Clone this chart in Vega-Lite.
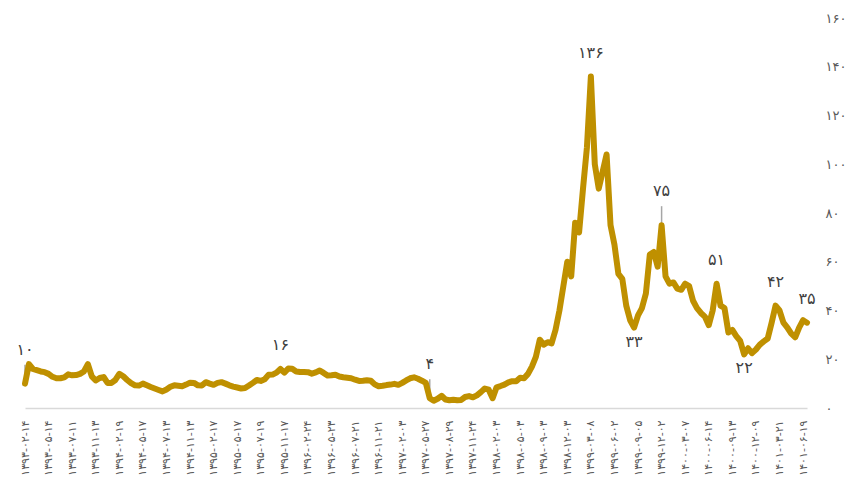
{
  "$schema": "https://vega.github.io/schema/vega-lite/v6.json",
  "autosize": {"type": "none"},
  "padding": {"left": 25, "top": 18, "right": 50, "bottom": 86},
  "width": 782,
  "height": 390,
  "background": "white",
  "config": {"view": {"stroke": null}, "font": "DejaVu Sans"},
  "datasets": {
    "series": [
      {"date": "۱۳۹۳-۰۲-۱۴", "value": 10},
      {"date": "۱۳۹۳-۰۲-۲۹", "value": 18},
      {"date": "۱۳۹۳-۰۳-۱۴", "value": 16},
      {"date": "۱۳۹۳-۰۳-۲۹", "value": 15.5},
      {"date": "۱۳۹۳-۰۴-۱۴", "value": 15},
      {"date": "۱۳۹۳-۰۴-۲۹", "value": 14.7},
      {"date": "۱۳۹۳-۰۵-۱۴", "value": 14},
      {"date": "۱۳۹۳-۰۵-۲۴", "value": 12.8},
      {"date": "۱۳۹۳-۰۶-۰۳", "value": 12.2},
      {"date": "۱۳۹۳-۰۶-۱۳", "value": 12.2},
      {"date": "۱۳۹۳-۰۶-۲۳", "value": 12.6},
      {"date": "۱۳۹۳-۰۷-۰۲", "value": 13.8},
      {"date": "۱۳۹۳-۰۷-۱۱", "value": 13.4},
      {"date": "۱۳۹۳-۰۸-۰۱", "value": 13.5},
      {"date": "۱۳۹۳-۰۸-۲۱", "value": 14},
      {"date": "۱۳۹۳-۰۹-۱۱", "value": 15},
      {"date": "۱۳۹۳-۱۰-۰۱", "value": 18},
      {"date": "۱۳۹۳-۱۰-۲۱", "value": 13},
      {"date": "۱۳۹۳-۱۱-۱۳", "value": 11.3},
      {"date": "۱۳۹۳-۱۱-۲۹", "value": 12.3},
      {"date": "۱۳۹۳-۱۲-۱۵", "value": 12.7},
      {"date": "۱۳۹۴-۰۱-۰۱", "value": 10.3},
      {"date": "۱۳۹۴-۰۱-۱۷", "value": 10.3},
      {"date": "۱۳۹۴-۰۲-۰۳", "value": 11.5},
      {"date": "۱۳۹۴-۰۲-۱۹", "value": 14},
      {"date": "۱۳۹۴-۰۳-۰۳", "value": 13},
      {"date": "۱۳۹۴-۰۳-۱۸", "value": 11.5},
      {"date": "۱۳۹۴-۰۴-۰۲", "value": 10.2},
      {"date": "۱۳۹۴-۰۴-۱۷", "value": 9.3},
      {"date": "۱۳۹۴-۰۵-۰۱", "value": 9.2},
      {"date": "۱۳۹۴-۰۵-۱۷", "value": 10},
      {"date": "۱۳۹۴-۰۵-۲۷", "value": 9.3},
      {"date": "۱۳۹۴-۰۶-۰۶", "value": 8.6},
      {"date": "۱۳۹۴-۰۶-۱۶", "value": 8},
      {"date": "۱۳۹۴-۰۶-۲۶", "value": 7.4},
      {"date": "۱۳۹۴-۰۷-۰۵", "value": 6.8},
      {"date": "۱۳۹۴-۰۷-۱۳", "value": 7.6},
      {"date": "۱۳۹۴-۰۸-۰۳", "value": 8.7},
      {"date": "۱۳۹۴-۰۸-۲۳", "value": 9.3},
      {"date": "۱۳۹۴-۰۹-۱۳", "value": 9.1},
      {"date": "۱۳۹۴-۱۰-۰۳", "value": 8.9},
      {"date": "۱۳۹۴-۱۰-۲۳", "value": 9.6},
      {"date": "۱۳۹۴-۱۱-۱۳", "value": 10.4},
      {"date": "۱۳۹۴-۱۱-۲۹", "value": 10.3},
      {"date": "۱۳۹۴-۱۲-۱۵", "value": 9.3},
      {"date": "۱۳۹۵-۰۱-۰۲", "value": 9.2},
      {"date": "۱۳۹۵-۰۱-۱۸", "value": 10.6},
      {"date": "۱۳۹۵-۰۲-۰۳", "value": 10},
      {"date": "۱۳۹۵-۰۲-۱۷", "value": 9.5},
      {"date": "۱۳۹۵-۰۳-۰۱", "value": 10.3},
      {"date": "۱۳۹۵-۰۳-۱۶", "value": 10.6},
      {"date": "۱۳۹۵-۰۳-۳۱", "value": 10},
      {"date": "۱۳۹۵-۰۴-۱۵", "value": 9.3},
      {"date": "۱۳۹۵-۰۴-۳۰", "value": 8.8},
      {"date": "۱۳۹۵-۰۵-۱۷", "value": 8.4},
      {"date": "۱۳۹۵-۰۵-۲۸", "value": 8},
      {"date": "۱۳۹۵-۰۶-۰۸", "value": 8.2},
      {"date": "۱۳۹۵-۰۶-۱۹", "value": 9.2},
      {"date": "۱۳۹۵-۰۶-۳۰", "value": 10.3},
      {"date": "۱۳۹۵-۰۷-۰۹", "value": 11.5},
      {"date": "۱۳۹۵-۰۷-۱۹", "value": 11.1},
      {"date": "۱۳۹۵-۰۸-۰۹", "value": 11.8},
      {"date": "۱۳۹۵-۰۸-۲۹", "value": 13.6},
      {"date": "۱۳۹۵-۰۹-۱۹", "value": 13.7},
      {"date": "۱۳۹۵-۱۰-۰۹", "value": 14.5},
      {"date": "۱۳۹۵-۱۰-۲۹", "value": 16},
      {"date": "۱۳۹۵-۱۱-۱۷", "value": 14.5},
      {"date": "۱۳۹۵-۱۲-۰۳", "value": 16.2},
      {"date": "۱۳۹۵-۱۲-۱۹", "value": 16.1},
      {"date": "۱۳۹۶-۰۱-۰۵", "value": 15},
      {"date": "۱۳۹۶-۰۱-۲۱", "value": 14.8},
      {"date": "۱۳۹۶-۰۲-۰۷", "value": 14.8},
      {"date": "۱۳۹۶-۰۲-۲۴", "value": 14.7},
      {"date": "۱۳۹۶-۰۳-۰۸", "value": 14.1},
      {"date": "۱۳۹۶-۰۳-۲۳", "value": 14.6},
      {"date": "۱۳۹۶-۰۴-۰۷", "value": 15.4},
      {"date": "۱۳۹۶-۰۴-۲۲", "value": 14.4},
      {"date": "۱۳۹۶-۰۵-۰۷", "value": 13.3},
      {"date": "۱۳۹۶-۰۵-۲۳", "value": 13.4},
      {"date": "۱۳۹۶-۰۶-۰۲", "value": 13.6},
      {"date": "۱۳۹۶-۰۶-۱۲", "value": 12.9},
      {"date": "۱۳۹۶-۰۶-۲۲", "value": 12.6},
      {"date": "۱۳۹۶-۰۷-۰۱", "value": 12.4},
      {"date": "۱۳۹۶-۰۷-۱۱", "value": 12.2},
      {"date": "۱۳۹۶-۰۷-۲۱", "value": 11.6},
      {"date": "۱۳۹۶-۰۸-۱۱", "value": 11.1},
      {"date": "۱۳۹۶-۰۹-۰۱", "value": 11.2},
      {"date": "۱۳۹۶-۰۹-۲۱", "value": 11.4},
      {"date": "۱۳۹۶-۱۰-۱۱", "value": 11.2},
      {"date": "۱۳۹۶-۱۱-۰۱", "value": 9.7},
      {"date": "۱۳۹۶-۱۱-۲۱", "value": 8.9},
      {"date": "۱۳۹۶-۱۲-۰۳", "value": 9.1},
      {"date": "۱۳۹۶-۱۲-۱۵", "value": 9.4},
      {"date": "۱۳۹۶-۱۲-۲۷", "value": 9.6},
      {"date": "۱۳۹۷-۰۱-۱۰", "value": 9.9},
      {"date": "۱۳۹۷-۰۱-۲۲", "value": 9.5},
      {"date": "۱۳۹۷-۰۲-۰۳", "value": 10.3},
      {"date": "۱۳۹۷-۰۲-۲۲", "value": 11.3},
      {"date": "۱۳۹۷-۰۳-۱۱", "value": 12.2},
      {"date": "۱۳۹۷-۰۳-۳۰", "value": 12.6},
      {"date": "۱۳۹۷-۰۴-۱۸", "value": 12},
      {"date": "۱۳۹۷-۰۵-۰۷", "value": 11.2},
      {"date": "۱۳۹۷-۰۵-۲۷", "value": 10.3},
      {"date": "۱۳۹۷-۰۶-۱۲", "value": 4},
      {"date": "۱۳۹۷-۰۶-۲۸", "value": 3},
      {"date": "۱۳۹۷-۰۷-۱۳", "value": 3.8},
      {"date": "۱۳۹۷-۰۷-۲۹", "value": 5},
      {"date": "۱۳۹۷-۰۸-۱۴", "value": 3.5},
      {"date": "۱۳۹۷-۰۸-۲۹", "value": 3.2},
      {"date": "۱۳۹۷-۰۹-۱۳", "value": 3.4},
      {"date": "۱۳۹۷-۰۹-۲۷", "value": 3.2},
      {"date": "۱۳۹۷-۱۰-۱۱", "value": 3.3},
      {"date": "۱۳۹۷-۱۰-۲۵", "value": 4.5},
      {"date": "۱۳۹۷-۱۱-۱۰", "value": 4.9},
      {"date": "۱۳۹۷-۱۱-۲۴", "value": 4.4},
      {"date": "۱۳۹۷-۱۲-۰۵", "value": 5.2},
      {"date": "۱۳۹۷-۱۲-۱۷", "value": 6.5},
      {"date": "۱۳۹۷-۱۲-۲۸", "value": 8},
      {"date": "۱۳۹۸-۰۱-۱۱", "value": 7.5},
      {"date": "۱۳۹۸-۰۱-۲۲", "value": 4},
      {"date": "۱۳۹۸-۰۲-۰۳", "value": 8.5},
      {"date": "۱۳۹۸-۰۲-۱۸", "value": 9},
      {"date": "۱۳۹۸-۰۳-۰۳", "value": 9.6},
      {"date": "۱۳۹۸-۰۳-۱۸", "value": 10.5},
      {"date": "۱۳۹۸-۰۴-۰۳", "value": 11},
      {"date": "۱۳۹۸-۰۴-۱۸", "value": 11},
      {"date": "۱۳۹۸-۰۵-۰۳", "value": 12.4},
      {"date": "۱۳۹۸-۰۵-۲۳", "value": 12.2},
      {"date": "۱۳۹۸-۰۶-۱۲", "value": 14},
      {"date": "۱۳۹۸-۰۷-۰۲", "value": 17},
      {"date": "۱۳۹۸-۰۷-۲۲", "value": 21},
      {"date": "۱۳۹۸-۰۸-۱۲", "value": 28},
      {"date": "۱۳۹۸-۰۹-۰۳", "value": 26},
      {"date": "۱۳۹۸-۰۹-۱۸", "value": 27},
      {"date": "۱۳۹۸-۱۰-۰۳", "value": 26.5},
      {"date": "۱۳۹۸-۱۰-۱۸", "value": 32},
      {"date": "۱۳۹۸-۱۱-۰۳", "value": 40},
      {"date": "۱۳۹۸-۱۱-۱۸", "value": 50},
      {"date": "۱۳۹۸-۱۲-۰۳", "value": 60},
      {"date": "۱۳۹۸-۱۲-۱۹", "value": 54},
      {"date": "۱۳۹۹-۰۱-۰۶", "value": 76},
      {"date": "۱۳۹۹-۰۱-۲۲", "value": 72},
      {"date": "۱۳۹۹-۰۲-۰۷", "value": 90},
      {"date": "۱۳۹۹-۰۲-۲۳", "value": 107},
      {"date": "۱۳۹۹-۰۳-۰۸", "value": 136},
      {"date": "۱۳۹۹-۰۳-۲۲", "value": 100},
      {"date": "۱۳۹۹-۰۴-۰۵", "value": 90},
      {"date": "۱۳۹۹-۰۴-۲۰", "value": 97},
      {"date": "۱۳۹۹-۰۵-۰۳", "value": 104},
      {"date": "۱۳۹۹-۰۵-۱۸", "value": 75},
      {"date": "۱۳۹۹-۰۶-۰۲", "value": 67},
      {"date": "۱۳۹۹-۰۶-۱۸", "value": 55},
      {"date": "۱۳۹۹-۰۷-۰۳", "value": 53},
      {"date": "۱۳۹۹-۰۷-۱۹", "value": 42},
      {"date": "۱۳۹۹-۰۸-۰۵", "value": 36},
      {"date": "۱۳۹۹-۰۸-۲۱", "value": 33},
      {"date": "۱۳۹۹-۰۹-۰۵", "value": 38},
      {"date": "۱۳۹۹-۰۹-۱۹", "value": 41},
      {"date": "۱۳۹۹-۱۰-۰۴", "value": 47},
      {"date": "۱۳۹۹-۱۰-۱۸", "value": 63},
      {"date": "۱۳۹۹-۱۱-۰۳", "value": 64},
      {"date": "۱۳۹۹-۱۱-۱۷", "value": 58},
      {"date": "۱۳۹۹-۱۲-۰۲", "value": 75},
      {"date": "۱۳۹۹-۱۲-۱۸", "value": 54},
      {"date": "۱۴۰۰-۰۱-۰۴", "value": 51},
      {"date": "۱۴۰۰-۰۱-۲۰", "value": 51.5},
      {"date": "۱۴۰۰-۰۲-۰۵", "value": 49},
      {"date": "۱۴۰۰-۰۲-۲۱", "value": 48.5},
      {"date": "۱۴۰۰-۰۳-۰۷", "value": 51},
      {"date": "۱۴۰۰-۰۳-۲۴", "value": 50},
      {"date": "۱۴۰۰-۰۴-۰۹", "value": 44},
      {"date": "۱۴۰۰-۰۴-۲۶", "value": 41},
      {"date": "۱۴۰۰-۰۵-۱۲", "value": 39},
      {"date": "۱۴۰۰-۰۵-۲۹", "value": 37.5},
      {"date": "۱۴۰۰-۰۶-۱۴", "value": 34},
      {"date": "۱۴۰۰-۰۶-۲۹", "value": 40},
      {"date": "۱۴۰۰-۰۷-۱۳", "value": 51},
      {"date": "۱۴۰۰-۰۷-۲۸", "value": 42},
      {"date": "۱۴۰۰-۰۸-۱۳", "value": 41},
      {"date": "۱۴۰۰-۰۸-۲۸", "value": 31},
      {"date": "۱۴۰۰-۰۹-۱۳", "value": 32},
      {"date": "۱۴۰۰-۰۹-۲۷", "value": 29.5},
      {"date": "۱۴۰۰-۱۰-۱۱", "value": 27.5},
      {"date": "۱۴۰۰-۱۰-۲۵", "value": 22},
      {"date": "۱۴۰۰-۱۱-۰۹", "value": 24.5},
      {"date": "۱۴۰۰-۱۱-۲۳", "value": 22.5},
      {"date": "۱۴۰۰-۱۲-۰۹", "value": 24},
      {"date": "۱۴۰۰-۱۲-۲۶", "value": 26},
      {"date": "۱۴۰۱-۰۱-۱۴", "value": 27.3},
      {"date": "۱۴۰۱-۰۲-۰۱", "value": 28.5},
      {"date": "۱۴۰۱-۰۲-۱۸", "value": 35},
      {"date": "۱۴۰۱-۰۳-۰۴", "value": 42},
      {"date": "۱۴۰۱-۰۳-۲۱", "value": 40},
      {"date": "۱۴۰۱-۰۴-۰۵", "value": 35},
      {"date": "۱۴۰۱-۰۴-۲۰", "value": 33},
      {"date": "۱۴۰۱-۰۵-۰۴", "value": 30.5},
      {"date": "۱۴۰۱-۰۵-۱۹", "value": 29},
      {"date": "۱۴۰۱-۰۶-۰۳", "value": 33},
      {"date": "۱۴۰۱-۰۶-۱۹", "value": 36},
      {"date": "۱۴۰۱-۰۷-۰۲", "value": 35}
    ],
    "peaks": [
      {"date": "۱۳۹۵-۱۰-۲۹", "value": 16, "label": "۱۶"},
      {"date": "۱۳۹۹-۰۳-۰۸", "value": 136, "label": "۱۳۶"},
      {"date": "۱۴۰۰-۰۷-۱۳", "value": 51, "label": "۵۱"},
      {"date": "۱۴۰۱-۰۳-۰۴", "value": 42, "label": "۴۲"},
      {"date": "۱۴۰۱-۰۷-۰۲", "value": 35, "label": "۳۵"}
    ],
    "callouts": [
      {"date": "۱۳۹۳-۰۲-۱۴", "value": 10, "label": "۱۰"},
      {"date": "۱۳۹۷-۰۶-۱۲", "value": 4, "label": "۴"},
      {"date": "۱۳۹۹-۱۲-۰۲", "value": 75, "label": "۷۵"}
    ],
    "troughs": [
      {"date": "۱۳۹۹-۰۸-۲۱", "value": 33, "label": "۳۳"},
      {"date": "۱۴۰۰-۱۰-۲۵", "value": 22, "label": "۲۲"}
    ]
  },
  "layer": [
    {
      "data": {"name": "callouts"},
      "mark": {"type": "rule", "color": "#A6A6A6", "strokeWidth": 1.5, "y2Offset": -19},
      "encoding": {
        "x": {"field": "date", "type": "ordinal"},
        "y": {"field": "value", "type": "quantitative"},
        "y2": {"field": "value"}
      }
    },
    {
      "data": {"name": "series"},
      "mark": {"type": "line", "color": "#BF9000", "strokeWidth": 6, "strokeJoin": "round", "strokeCap": "round"},
      "encoding": {
        "x": {
          "field": "date",
          "type": "ordinal",
          "scale": {"type": "point", "padding": 0},
          "axis": {
            "title": null,
            "values": ["۱۳۹۳-۰۲-۱۴", "۱۳۹۳-۰۵-۱۴", "۱۳۹۳-۰۷-۱۱", "۱۳۹۳-۱۱-۱۳", "۱۳۹۴-۰۲-۱۹", "۱۳۹۴-۰۵-۱۷", "۱۳۹۴-۰۷-۱۳", "۱۳۹۴-۱۱-۱۳", "۱۳۹۵-۰۲-۱۷", "۱۳۹۵-۰۵-۱۷", "۱۳۹۵-۰۷-۱۹", "۱۳۹۵-۱۱-۱۷", "۱۳۹۶-۰۲-۲۴", "۱۳۹۶-۰۵-۲۳", "۱۳۹۶-۰۷-۲۱", "۱۳۹۶-۱۱-۲۱", "۱۳۹۷-۰۲-۰۳", "۱۳۹۷-۰۵-۲۷", "۱۳۹۷-۰۸-۲۹", "۱۳۹۷-۱۱-۲۴", "۱۳۹۸-۰۲-۰۳", "۱۳۹۸-۰۵-۰۳", "۱۳۹۸-۰۹-۰۳", "۱۳۹۸-۱۲-۰۳", "۱۳۹۹-۰۳-۰۸", "۱۳۹۹-۰۶-۰۲", "۱۳۹۹-۰۹-۰۵", "۱۳۹۹-۱۲-۰۲", "۱۴۰۰-۰۳-۰۷", "۱۴۰۰-۰۶-۱۴", "۱۴۰۰-۰۹-۱۳", "۱۴۰۰-۱۲-۰۹", "۱۴۰۱-۰۳-۲۱", "۱۴۰۱-۰۶-۱۹"],
            "labelAngle": 270,
            "labelFontSize": 11,
            "labelColor": "#595959",
            "labelPadding": 12,
            "labelOverlap": false,
            "labelBound": false,
            "ticks": false,
            "tickSize": 0,
            "grid": false,
            "domainColor": "#D9D9D9",
            "domainWidth": 1.5
          }
        },
        "y": {
          "field": "value",
          "type": "quantitative",
          "scale": {"domain": [0, 160], "nice": false, "zero": true},
          "axis": {
            "title": null,
            "orient": "right",
            "values": [0, 20, 40, 60, 80, 100, 120, 140, 160],
            "labelExpr": "['۰','۲۰','۴۰','۶۰','۸۰','۱۰۰','۱۲۰','۱۴۰','۱۶۰'][round(datum.value/20)]",
            "labelAlign": "left",
            "labelPadding": 18,
            "labelFontSize": 13,
            "labelColor": "#595959",
            "domain": false,
            "ticks": false,
            "grid": false
          }
        }
      }
    },
    {
      "data": {"name": "peaks"},
      "mark": {"type": "text", "dy": -24, "fontSize": 16, "color": "#404040", "baseline": "middle", "align": "center"},
      "encoding": {
        "x": {"field": "date", "type": "ordinal"},
        "y": {"field": "value", "type": "quantitative"},
        "text": {"field": "label"}
      }
    },
    {
      "data": {"name": "callouts"},
      "mark": {"type": "text", "dy": -34, "fontSize": 16, "color": "#404040", "baseline": "middle", "align": "center"},
      "encoding": {
        "x": {"field": "date", "type": "ordinal"},
        "y": {"field": "value", "type": "quantitative"},
        "text": {"field": "label"}
      }
    },
    {
      "data": {"name": "troughs"},
      "mark": {"type": "text", "dy": 14, "fontSize": 16, "color": "#404040", "baseline": "middle", "align": "center"},
      "encoding": {
        "x": {"field": "date", "type": "ordinal"},
        "y": {"field": "value", "type": "quantitative"},
        "text": {"field": "label"}
      }
    }
  ]
}
